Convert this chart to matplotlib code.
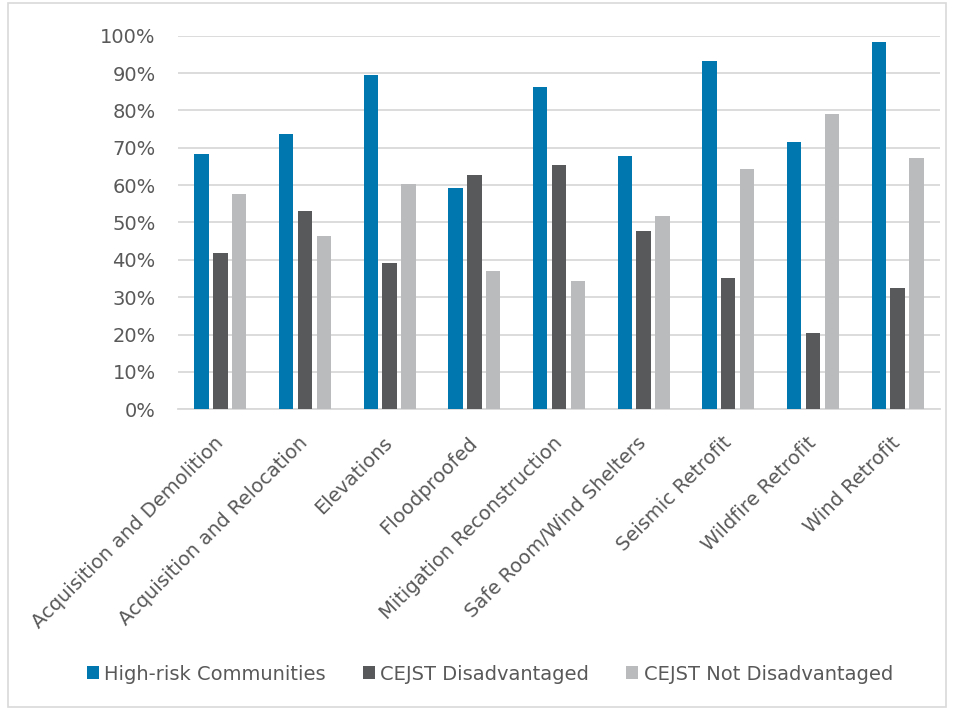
import numpy as np
import matplotlib
matplotlib.use("Agg")
import matplotlib.pyplot as plt
from matplotlib.patches import Rectangle
from matplotlib.ticker import PercentFormatter

categories = ["Acquisition and Demolition", "Acquisition and Relocation", "Elevations",
              "Floodproofed", "Mitigation Reconstruction", "Safe Room/Wind Shelters",
              "Seismic Retrofit", "Wildfire Retrofit", "Wind Retrofit"]
high_risk = [68.4, 73.6, 89.5, 59.1, 86.3, 67.8, 93.2, 71.6, 98.2]
cejst_dis = [41.8, 53.1, 39.2, 62.6, 65.3, 47.8, 35.1, 20.4, 32.4]
cejst_not = [57.7, 46.5, 60.4, 36.9, 34.3, 51.7, 64.4, 79.1, 67.3]
series_names = ["High-risk Communities", "CEJST Disadvantaged", "CEJST Not Disadvantaged"]
colors = ["#0077AE", "#58595B", "#BABBBD"]

txt = "#595959"
plt.rcParams["font.family"] = "DejaVu Sans"

fig = plt.figure(figsize=(9.56, 7.08), dpi=100)
ax = fig.add_axes([0.1862, 0.4219, 0.797, 0.5277])

x = np.arange(len(categories))
w = 0.17
step = 0.222
for i, (vals, name, c) in enumerate(zip([high_risk, cejst_dis, cejst_not], series_names, colors)):
    ax.bar(x + (i - 1) * step, vals, w, color=c, label=name, zorder=3)

ax.set_xlim(-0.5, len(categories) - 0.5)
ax.set_ylim(0, 100)
ax.set_yticks(np.arange(0, 101, 10))
ax.yaxis.set_major_formatter(PercentFormatter(decimals=0))
ax.grid(axis="y", color="#D9D9D9", linewidth=1.3, zorder=0)
for s in ["top", "right", "left"]:
    ax.spines[s].set_visible(False)
ax.spines["bottom"].set_color("#D9D9D9")
ax.spines["bottom"].set_linewidth(1.3)
ax.tick_params(axis="both", length=0, colors=txt, labelsize=14)
ax.tick_params(axis="y", pad=16)
ax.set_xticks(x)
ax.set_xticklabels(categories, rotation=45, ha="right", rotation_mode="anchor", va="center")
ax.tick_params(axis="x", pad=22)

ax.legend(loc="center", bbox_to_anchor=(490 / 956, 1 - 674 / 708), bbox_transform=fig.transFigure,
          ncol=3, frameon=False, fontsize=14, labelcolor=txt, handlelength=0.6, handleheight=0.6,
          handletextpad=0.3, columnspacing=1.9)

fig.patches.append(Rectangle((8 / 956, 0.002), 938 / 956, 0.994, transform=fig.transFigure,
                             fill=False, edgecolor="#D9D9D9", linewidth=1.2))

fig.savefig("out.png", dpi=100)
